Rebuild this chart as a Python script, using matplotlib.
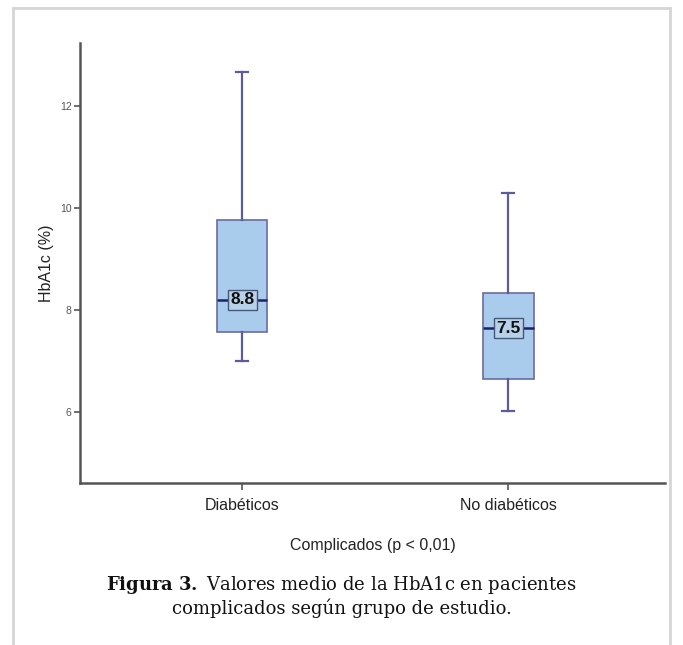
import matplotlib.pyplot as plt
from matplotlib.lines import Line2D

# Datos
grupos = ["Diabéticos", "No diabéticos"]
bigote_inf = [6.99, 6.02]
q1 = [7.56, 6.64]
mediana = [8.2, 7.64]
q3 = [9.77, 8.32]
bigote_sup = [12.66, 10.3]
etiqueta_media = ["8.8", "7.5"]
yticks = [6, 8, 10, 12]

plt.rcParams["mathtext.fontset"] = "custom"
plt.rcParams["mathtext.rm"] = "DejaVu Serif"
plt.rcParams["mathtext.bf"] = "DejaVu Serif:bold"

fig = plt.figure(figsize=(6.83, 6.45), dpi=100)
ax = fig.add_axes([0.117, 0.251, 0.857, 0.682])

stats = []
for i in range(len(grupos)):
    stats.append({"whislo": bigote_inf[i], "q1": q1[i], "med": mediana[i],
                  "q3": q3[i], "whishi": bigote_sup[i], "label": grupos[i]})

ax.bxp(stats, positions=[1, 2], widths=0.19, showfliers=False,
       patch_artist=True,
       boxprops=dict(facecolor="#a9cbec", edgecolor="#6b6ba3", linewidth=1.2),
       whiskerprops=dict(color="#5c5c9a", linewidth=1.6),
       capprops=dict(color="#5c5c9a", linewidth=1.6),
       medianprops=dict(color="#1c2366", linewidth=1.8),
       capwidths=0.045)

# etiquetas de la media sobre la mediana
for i in range(len(grupos)):
    ax.text(i + 1, mediana[i], etiqueta_media[i], ha="center", va="center",
            fontsize=12.5, fontweight="bold", color="#111111",
            family="Liberation Sans",
            bbox=dict(boxstyle="square,pad=0.15", facecolor="#b7d1ea",
                      edgecolor="#4a5878", linewidth=1.0))

ax.set_xlim(0.39, 2.59)
ax.set_ylim(4.6, 13.23)
ax.set_yticks(yticks)
ax.set_yticklabels([str(v) for v in yticks], fontsize=7.5, color="#555555",
                   family="Liberation Sans")
ax.set_xticks([1, 2])
ax.set_xticklabels(grupos, fontsize=11.5, color="#222222", family="Liberation Sans")
ax.tick_params(axis="y", length=4, width=1.2, color="#555555", pad=2)
ax.tick_params(axis="x", length=5, width=1.2, color="#555555", pad=6)

for s in ["top", "right"]:
    ax.spines[s].set_visible(False)
for s in ["left", "bottom"]:
    ax.spines[s].set_color("#555555")
    ax.spines[s].set_linewidth(1.8)

ax.set_ylabel("HbA1c (%)", fontsize=11.5, color="#222222",
              family="Liberation Sans", labelpad=4)
ax.set_xlabel("Complicados (p < 0,01)", fontsize=11.5, color="#222222",
              family="Liberation Sans", labelpad=18)

# marco gris alrededor
for coords in [([0.019, 0.019], [0.0, 0.988]),
               ([0.019, 0.981], [0.988, 0.988]),
               ([0.981, 0.981], [0.0, 0.988])]:
    fig.add_artist(Line2D(coords[0], coords[1], transform=fig.transFigure,
                          color="#d6d6d6", linewidth=2))

# pie de figura
fig.text(0.5, 0.093, r"$\mathbf{Figura\ 3.}$ Valores medio de la HbA1c en pacientes",
         ha="center", va="center", fontsize=13, family="DejaVu Serif",
         color="#111111")
fig.text(0.5, 0.057, "complicados según grupo de estudio.",
         ha="center", va="center", fontsize=13, family="DejaVu Serif",
         color="#111111")

fig.savefig("out.png", dpi=100)
